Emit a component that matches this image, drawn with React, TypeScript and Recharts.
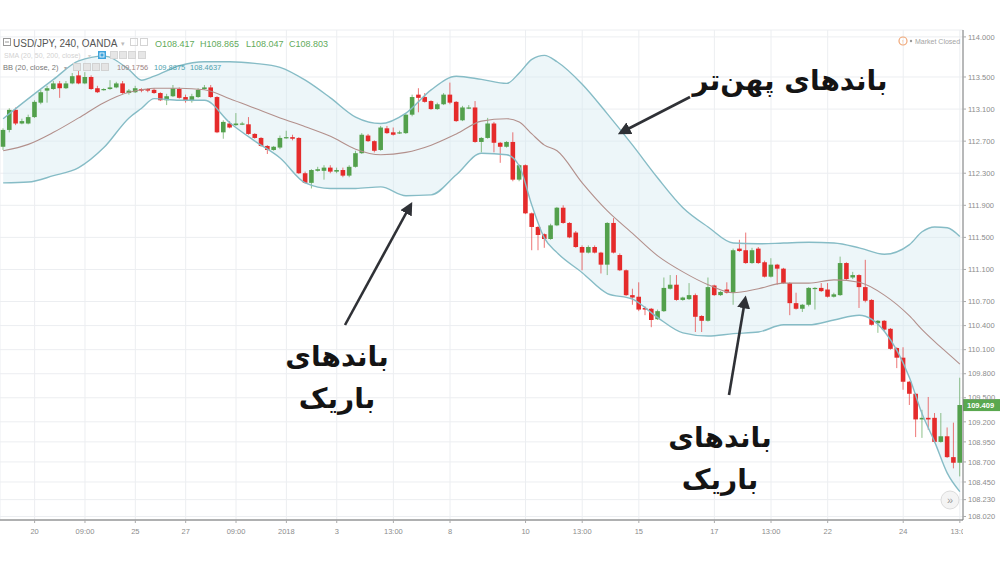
import React from "react";
import { Area, Bar, CartesianGrid, ComposedChart, Line, ReferenceLine, XAxis, YAxis } from "recharts";

// USD/JPY 4h candles
const opens = [
  112.63, 112.84, 113.09, 112.92, 112.92, 113.0, 113.18, 113.33, 113.35, 113.42,
  113.36, 113.42, 113.52, 113.42, 113.5, 113.36, 113.34, 113.35, 113.37, 113.42,
  113.3, 113.31, 113.35, 113.35, 113.34, 113.3, 113.21, 113.26, 113.35, 113.25,
  113.2, 113.25, 113.35, 113.37, 113.25, 112.81, 112.92, 112.9, 112.91, 112.91,
  112.79, 112.74, 112.64, 112.59, 112.62, 112.74, 112.75, 112.74, 112.3, 112.18,
  112.33, 112.33, 112.37, 112.32, 112.34, 112.27, 112.38, 112.55, 112.77, 112.7,
  112.59, 112.86, 112.81, 112.8, 112.8, 113.03, 113.28, 113.25, 113.2, 113.1,
  113.16, 113.28, 113.19, 112.96, 113.11, 113.12, 112.69, 112.74, 112.92, 112.68,
  112.63, 112.69, 112.22, 112.4, 111.8, 111.63, 111.54, 111.48, 111.65, 111.87,
  111.68, 111.56, 111.38, 111.31, 111.38, 111.31, 111.16, 111.68, 111.28, 111.09,
  110.78, 110.76, 110.62, 110.61, 110.48, 110.58, 110.86, 110.91, 110.72, 110.73,
  110.78, 110.52, 110.46, 110.9, 110.78, 110.85, 110.81, 111.36, 111.34, 111.18,
  111.36, 111.19, 111.01, 111.16, 111.11, 110.93, 110.68, 110.61, 110.66, 110.86,
  110.87, 110.85, 110.76, 110.78, 111.18, 111.0, 111.03, 110.88, 110.72, 110.43,
  110.46, 110.36, 110.12, 110.0, 109.7, 109.55, 109.23, 109.25, 109.25, 108.95,
  109.02, 108.76, 108.69,
];
const closes = [
  112.84, 113.09, 112.92, 112.95, 113.0, 113.19, 113.31, 113.36, 113.42, 113.36,
  113.42, 113.51, 113.42, 113.5, 113.35, 113.31, 113.35, 113.37, 113.42, 113.3,
  113.33, 113.36, 113.33, 113.33, 113.3, 113.21, 113.26, 113.36, 113.24, 113.2,
  113.26, 113.34, 113.37, 113.25, 112.81, 112.94, 112.87, 112.92, 112.92, 112.79,
  112.74, 112.64, 112.59, 112.63, 112.74, 112.75, 112.73, 112.3, 112.18, 112.34,
  112.35, 112.37, 112.32, 112.34, 112.27, 112.38, 112.55, 112.78, 112.7, 112.58,
  112.87, 112.8, 112.78, 112.81, 113.03, 113.25, 113.24, 113.19, 113.1, 113.16,
  113.28, 113.18, 112.95, 113.12, 113.12, 112.69, 112.74, 112.92, 112.68, 112.63,
  112.69, 112.22, 112.4, 111.8, 111.63, 111.53, 111.48, 111.65, 111.87, 111.68,
  111.5, 111.38, 111.31, 111.38, 111.31, 111.16, 111.68, 111.31, 111.09, 110.78,
  110.75, 110.6, 110.6, 110.47, 110.58, 110.87, 110.91, 110.72, 110.75, 110.78,
  110.51, 110.46, 110.88, 110.78, 110.82, 110.81, 111.34, 111.33, 111.18, 111.34,
  111.18, 111.01, 111.16, 111.11, 110.93, 110.68, 110.61, 110.66, 110.87, 110.87,
  110.83, 110.76, 110.79, 111.18, 110.98, 111.03, 110.88, 110.71, 110.41, 110.46,
  110.35, 110.11, 110.0, 109.7, 109.55, 109.23, 109.25, 109.23, 108.95, 109.02,
  108.76, 108.69, 109.41,
];
const highs = [
  112.86, 113.11, 113.12, 112.98, 113.03, 113.21, 113.34, 113.39, 113.45, 113.45,
  113.45, 113.55, 113.61, 113.56, 113.52, 113.39, 113.36, 113.46, 113.44, 113.45,
  113.35, 113.39, 113.36, 113.36, 113.36, 113.31, 113.29, 113.4, 113.37, 113.28,
  113.29, 113.36, 113.4, 113.4, 113.26, 112.96, 112.95, 113.05, 112.94, 113.0,
  112.8, 112.75, 112.65, 112.64, 112.77, 112.83, 112.78, 112.75, 112.32, 112.35,
  112.38, 112.4, 112.4, 112.37, 112.37, 112.4, 112.58, 112.8, 112.79, 112.71,
  112.89, 112.89, 112.87, 112.83, 113.04, 113.28, 113.36, 113.3, 113.21, 113.18,
  113.3, 113.43, 113.2, 113.14, 113.15, 113.2, 112.75, 112.99, 112.94, 112.69,
  112.7, 112.81, 112.41, 112.41, 111.81, 111.64, 111.55, 111.67, 111.88, 111.9,
  111.69, 111.58, 111.4, 111.4, 111.4, 111.32, 111.69, 111.74, 111.3, 111.1,
  110.86, 110.94, 110.64, 110.62, 110.6, 111.0, 111.03, 111.03, 110.76, 110.93,
  110.8, 110.53, 111.0, 110.91, 110.83, 110.94, 111.36, 111.47, 111.56, 111.37,
  111.38, 111.21, 111.24, 111.17, 111.12, 110.94, 110.81, 110.67, 110.88, 110.88,
  110.93, 110.93, 110.81, 111.26, 111.19, 111.07, 111.04, 111.22, 110.73, 110.47,
  110.47, 110.37, 110.13, 110.13, 109.71, 109.56, 109.35, 109.51, 109.31, 109.31,
  109.13, 109.19, 109.75,
];
const lows = [
  112.59, 112.81, 112.9, 112.91, 112.91, 112.99, 113.16, 113.18, 113.34, 113.24,
  113.35, 113.41, 113.41, 113.41, 113.34, 113.3, 113.33, 113.34, 113.36, 113.29,
  113.28, 113.3, 113.31, 113.31, 113.29, 113.2, 113.15, 113.25, 113.23, 113.18,
  113.18, 113.24, 113.34, 113.24, 112.8, 112.73, 112.86, 112.89, 112.9, 112.78,
  112.73, 112.63, 112.54, 112.58, 112.6, 112.73, 112.71, 112.29, 112.17, 112.11,
  112.32, 112.22, 112.3, 112.3, 112.25, 112.25, 112.37, 112.54, 112.69, 112.56,
  112.58, 112.79, 112.77, 112.79, 112.79, 113.01, 113.06, 113.18, 113.09, 113.09,
  113.15, 113.16, 112.94, 112.95, 113.1, 112.68, 112.56, 112.73, 112.56, 112.43,
  112.62, 112.2, 112.2, 111.79, 111.34, 111.34, 111.37, 111.47, 111.64, 111.67,
  111.49, 111.37, 111.09, 111.3, 111.3, 111.05, 111.03, 111.3, 111.08, 110.77,
  110.66, 110.58, 110.53, 110.38, 110.47, 110.57, 110.85, 110.71, 110.71, 110.72,
  110.32, 110.32, 110.45, 110.77, 110.77, 110.8, 110.66, 111.32, 111.17, 111.17,
  111.17, 111.0, 111.0, 110.91, 110.92, 110.53, 110.6, 110.57, 110.64, 110.6,
  110.82, 110.75, 110.75, 110.77, 110.97, 110.98, 110.62, 110.69, 110.4, 110.31,
  110.33, 110.1, 109.87, 109.6, 109.41, 109.01, 109.0, 109.1, 108.94, 108.94,
  108.75, 108.62, 108.52,
];

// Bollinger band (20, close, 2) read at these candle indexes
const bandIdx = [
  0, 4, 8, 12, 16, 20, 22, 24, 28, 32, 36, 40, 44, 48, 52, 56, 60, 64, 68, 72, 76, 80,
  82, 84, 86, 88, 92, 96, 100, 104, 108, 112, 116, 120, 124, 128, 132, 136, 140, 144,
  146, 148, 150, 152,
];
const bbUpper = [
  112.98, 113.23, 113.47, 113.7, 113.76, 113.59, 113.46, 113.51, 113.64, 113.69,
  113.69, 113.67, 113.62, 113.46, 113.24, 113.0, 112.92, 113.05, 113.34, 113.51,
  113.47, 113.42, 113.55, 113.72, 113.77, 113.69, 113.41, 113.04, 112.65, 112.24,
  111.87, 111.63, 111.43, 111.42, 111.43, 111.44, 111.43, 111.37, 111.29, 111.41,
  111.57, 111.63, 111.62, 111.51,
];
const bbBasis = [
  112.58, 112.66, 112.81, 112.99, 113.18, 113.31, 113.34, 113.36, 113.36, 113.34,
  113.23, 113.11, 112.99, 112.88, 112.76, 112.6, 112.53, 112.56, 112.65, 112.79,
  112.95, 112.98, 112.94, 112.79, 112.65, 112.58, 112.18, 111.83, 111.55, 111.27,
  111.07, 110.91, 110.81, 110.86, 110.93, 110.93, 110.97, 110.94, 110.78, 110.52,
  110.35, 110.2, 110.06, 109.92,
];
const bbLower = [
  112.18, 112.19, 112.27, 112.37, 112.62, 112.99, 113.11, 113.23, 113.21, 113.21,
  112.93, 112.7, 112.49, 112.18, 112.11, 112.11, 112.13, 112.02, 112.03, 112.28,
  112.55, 112.53, 112.39, 111.9, 111.49, 111.31, 111.06, 110.8, 110.73, 110.5,
  110.31, 110.27, 110.3, 110.32, 110.41, 110.41, 110.47, 110.53, 110.33, 109.75,
  109.3, 108.95, 108.56, 108.33,
];

const xTickIdx = [5, 13, 21, 29, 37, 45, 53, 62, 71, 83, 92, 101, 113, 122, 131, 143, 152];
const xTickLabels = ["20", "09:00", "25", "27", "09:00", "2018", "3", "13:00", "8", "10", "13:00", "15", "17", "13:00", "22", "24", "13:00"];
const yTicks = [114.0, 113.5, 113.1, 112.7, 112.3, 111.9, 111.5, 111.1, 110.7, 110.4, 110.1, 109.8, 109.5, 109.2, 108.95, 108.7, 108.45, 108.23, 108.02];

const lastPrice = 109.409;

const GREEN = "#53a04c";
const RED = "#e52b2b";
const BAND = "#86bcc6";

const rows = opens.map((o, i) => {
  const k = bandIdx.indexOf(i);
  return {
    i,
    open: o,
    close: closes[i],
    high: highs[i],
    low: lows[i],
    hl: [lows[i], highs[i]],
    upper: k >= 0 ? bbUpper[k] : null,
    basis: k >= 0 ? bbBasis[k] : null,
    lower: k >= 0 ? bbLower[k] : null,
    band: k >= 0 ? [bbLower[k], bbUpper[k]] : null,
  };
});

function Candle(props: any) {
  const { x, y, width, height, payload } = props;
  if (!payload || height == null) return null;
  const { open, close, high, low } = payload;
  const top = Math.min(y, y + height);
  const h = Math.abs(height);
  const k = h / (high - low);
  const cx = x + width / 2;
  const bTop = top + (high - Math.max(open, close)) * k;
  const bBot = top + (high - Math.min(open, close)) * k;
  const col = close >= open ? GREEN : RED;
  return (
    <g>
      <line x1={cx} x2={cx} y1={top} y2={top + h} stroke={col} strokeOpacity={0.65} strokeWidth={1} />
      <rect x={cx - 2.3} y={bTop} width={4.6} height={Math.max(1.2, bBot - bTop)} fill={col} />
    </g>
  );
}

function XTick(props: any) {
  const { x, y, payload } = props;
  const n = xTickIdx.indexOf(payload.value);
  return (
    <svg x={0} y={y} width={963} height={16} overflow="hidden">
      <text x={x} y={9} textAnchor="middle" fontSize={7.5} fill="#8c8c8c" fontFamily="Liberation Sans">
        {n >= 0 ? xTickLabels[n] : ""}
      </text>
    </svg>
  );
}

function PriceTag(props: any) {
  const { viewBox } = props;
  if (!viewBox) return null;
  const px = viewBox.x + viewBox.width;
  return (
    <g>
      <rect x={px} y={viewBox.y - 6} width={37} height={12} fill="#5aa84f" />
      <text x={px + 4} y={viewBox.y + 3} fontSize={7.5} fill="#fff" fontWeight="bold" fontFamily="Liberation Sans">
        {lastPrice.toFixed(3)}
      </text>
    </g>
  );
}

function Arrow({ x1, y1, x2, y2 }: { x1: number; y1: number; x2: number; y2: number }) {
  return <line x1={x1} y1={y1} x2={x2} y2={y2} stroke="#2f3136" strokeWidth={2.6} markerEnd="url(#head)" />;
}

const fa = { fontFamily: "'DejaVu Sans', sans-serif", fontWeight: 700, fill: "#141414" } as const;

export default function App() {
  return (
    <div style={{ position: "absolute", left: 0, top: 0, width: 1000, height: 562, background: "#fff", fontFamily: "Liberation Sans" }}>
      <ComposedChart width={1000} height={562} data={rows} margin={{ top: 30, right: 0, bottom: 0, left: 0 }} barCategoryGap={0}>
        <CartesianGrid stroke="#eceef1" />
        <XAxis
          dataKey="i"
          type="category"
          ticks={xTickIdx}
          interval={0}
          height={42}
          axisLine={{ stroke: "#6a6a6a" }}
          tickLine={{ stroke: "#aaa" }}
          tickSize={3}
          tick={<XTick />}
        />
        <YAxis
          orientation="right"
          domain={[107.976, 114.086]}
          allowDataOverflow
          ticks={yTicks}
          interval={0}
          width={37}
          axisLine={{ stroke: "#7a7a7a" }}
          tickLine={{ stroke: "#aaa" }}
          tickSize={3}
          tickMargin={2}
          tick={{ fontSize: 7.5, fill: "#8c8c8c" }}
          tickFormatter={(v: number) => v.toFixed(3)}
        />
        <Area dataKey="band" type="monotone" connectNulls stroke="none" fill="#d3eaf1" fillOpacity={0.42} isAnimationActive={false} />
        <Line dataKey="basis" type="monotone" connectNulls dot={false} stroke="#b3908c" strokeWidth={1.1} isAnimationActive={false} />
        <Line dataKey="upper" type="monotone" connectNulls dot={false} stroke={BAND} strokeWidth={1.4} isAnimationActive={false} />
        <Line dataKey="lower" type="monotone" connectNulls dot={false} stroke={BAND} strokeWidth={1.4} isAnimationActive={false} />
        <Bar dataKey="hl" shape={<Candle />} isAnimationActive={false} />
        <ReferenceLine y={lastPrice} stroke="none" label={<PriceTag />} />
      </ComposedChart>

      <svg width={1000} height={562} style={{ position: "absolute", left: 0, top: 0, pointerEvents: "none" }}>
        <defs>
          <marker id="head" markerWidth={5} markerHeight={5} refX={3.2} refY={2.5} orient="auto" markerUnits="strokeWidth">
            <path d="M0,0 L5,2.5 L0,5 Z" fill="#2f3136" />
          </marker>
        </defs>

        {/* legend lines */}
        <rect x={3.5} y={38.5} width={7} height={7} fill="none" stroke="#999" />
        <line x1={5} x2={9} y1={42} y2={42} stroke="#999" />
        <text x={13} y={47} fontSize={10} fill="#555">USD/JPY, 240, OANDA</text>
        <text x={121} y={46} fontSize={7} fill="#bbb">▾</text>
        <rect x={130.5} y={38.5} width={7} height={7} fill="none" stroke="#d4d4d4" />
        <rect x={140.5} y={38.5} width={7} height={7} fill="none" stroke="#d4d4d4" />
        <text x={155} y={47} fontSize={9} fill="#62aa5c">O108.417</text>
        <text x={200} y={47} fontSize={9} fill="#62aa5c">H108.865</text>
        <text x={246} y={47} fontSize={9} fill="#62aa5c">L108.047</text>
        <text x={289} y={47} fontSize={9} fill="#62aa5c">C108.803</text>

        <text x={4} y={58} fontSize={7} fill="#d2d2d2">SMA (20, 50, 200, close)</text>
        <text x={88} y={58} fontSize={6} fill="#d2d2d2">▾</text>
        <rect x={98} y={51} width={8} height={8} fill="#3fa4dc" />
        <rect x={100} y={53} width={4} height={4} fill="none" stroke="#fff" strokeWidth={0.8} />
        {[110, 119, 128, 138].map((x) => (
          <rect key={x} x={x + 0.5} y={51.5} width={7} height={7} fill="#e6e6e6" stroke="#d6d6d6" />
        ))}

        <text x={3} y={70} fontSize={7.5} fill="#777">BB (20, close, 2)</text>
        <text x={64} y={70} fontSize={6} fill="#aaa">▾</text>
        {[73, 83, 92, 101].map((x) => (
          <rect key={x} x={x + 0.5} y={63.5} width={7} height={7} fill="#e4e4e4" stroke="#d2d2d2" />
        ))}
        <text x={117} y={70} fontSize={7.5} fill="#a08583">109.1756</text>
        <text x={154} y={70} fontSize={7.5} fill="#4fa1ad">109.8875</text>
        <text x={190} y={70} fontSize={7.5} fill="#4fa1ad">108.4637</text>

        <circle cx={903} cy={41} r={4} fill="none" stroke="#f0a676" strokeWidth={1.2} />
        <text x={903} y={43.5} fontSize={5} fill="#f0a676" textAnchor="middle">!</text>
        <circle cx={911} cy={41} r={1.2} fill="#999" />
        <text x={915} y={43.5} fontSize={7} fill="#a5a5a5">Market Closed</text>

        <circle cx={950} cy={500} r={9} fill="#f4f4f4" stroke="#dcdcdc" />
        <text x={950} y={504} fontSize={11} fill="#999" textAnchor="middle">»</text>

        {/* annotations */}
        <text x={790} y={90} fontSize={28} textAnchor="middle" {...fa}>باندهای پهن‌تر</text>
        <Arrow x1={690} y1={97} x2={622} y2={132} />

        <text x={337} y={366} fontSize={28} textAnchor="middle" {...fa}>باندهای</text>
        <text x={337} y={408} fontSize={28} textAnchor="middle" {...fa}>باریک</text>
        <Arrow x1={345} y1={325} x2={410} y2={206} />

        <text x={720} y={447} fontSize={28} textAnchor="middle" {...fa}>باندهای</text>
        <text x={720} y={489} fontSize={28} textAnchor="middle" {...fa}>باریک</text>
        <Arrow x1={729} y1={395} x2={745} y2={300} />
      </svg>
    </div>
  );
}
